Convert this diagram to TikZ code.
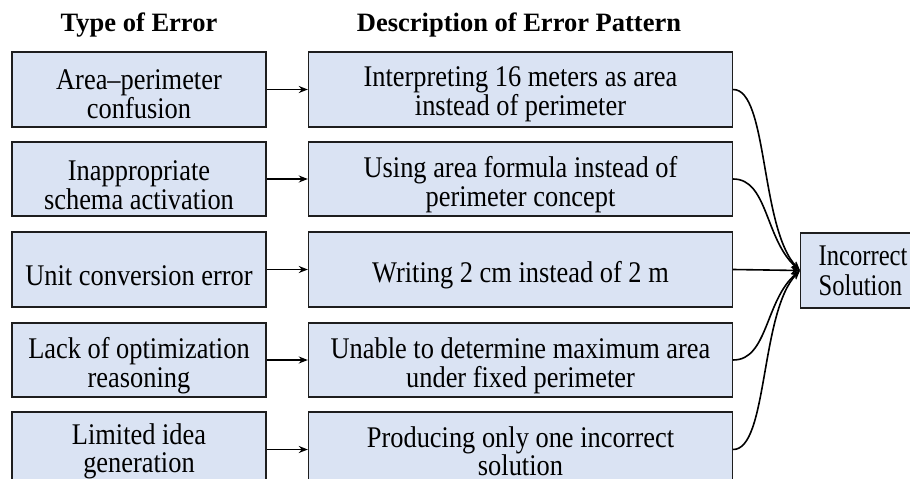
\documentclass[tikz,border=0pt]{standalone}
\usepackage{fontspec}
\setmainfont{Liberation Serif}
\newfontfamily\bodyfont{Liberation Serif}[FakeStretch=0.88]
\newfontfamily\incfont{Liberation Serif}[FakeStretch=0.82]
\usetikzlibrary{arrows.meta}
\setlength{\parindent}{0pt}
\definecolor{boxfill}{RGB}{218,227,243}
\definecolor{boxline}{RGB}{30,30,30}
\newcommand{\tstrut}[1][32pt]{\rule{0pt}{#1}}
\tikzset{
  errbox/.style={draw=boxline, fill=boxfill, line width=1.4pt, rectangle,
    align=center, inner sep=0pt, font=\bodyfont\fontsize{30}{28.5}\selectfont},
  hdr/.style={font=\bfseries\fontsize{26.5}{30}\selectfont, inner sep=0pt, anchor=base},
  conn/.style={line width=1.6pt, -{Stealth[length=9pt,width=7pt]}},
}
\begin{document}
\begin{tikzpicture}[x=1pt,y=-1pt]
\useasboundingbox (0,0) rectangle (910,479);
\begin{scope}
\clip (0,0) rectangle (910,479);
\node[hdr] (h1) at (139,31) {Type of Error};
\node[hdr] (h2) at (519,31) {Description of Error Pattern};

\node[errbox, minimum width=254pt, minimum height=75pt] (l1) at (139,89.5) {\tstrut[29pt]Area–perimeter\\confusion};
\node[errbox, minimum width=254pt, minimum height=74pt] (l2) at (139,179) {\tstrut Inappropriate\\schema activation};
\node[errbox, minimum width=254pt, minimum height=75pt] (l3) at (139,269.5) {\tstrut[33pt]Unit conversion error};
\node[errbox, minimum width=254pt, minimum height=74pt] (l4) at (139,360) {\tstrut Lack of optimization\\reasoning};
\node[errbox, minimum width=254pt, minimum height=75pt] (l5) at (139,449.5) {\tstrut[24pt]Limited idea\\generation};

\node[errbox, minimum width=424pt, minimum height=75pt] (r1) at (520.5,89.5) {\tstrut[29pt]Interpreting 16 meters as area\\instead of perimeter};
\node[errbox, minimum width=424pt, minimum height=74pt] (r2) at (520.5,179) {\tstrut Using area formula instead of\\perimeter concept};
\node[errbox, minimum width=424pt, minimum height=75pt] (r3) at (520.5,269.5) {\tstrut[33pt]Writing 2 cm instead of 2 m};
\node[errbox, minimum width=424pt, minimum height=74pt] (r4) at (520.5,360) {\tstrut Unable to determine maximum area\\under fixed perimeter};
\node[errbox, minimum width=424pt, minimum height=75pt] (r5) at (520.5,449.5) {\tstrut[24pt]Producing only one incorrect\\solution};

\node[errbox, align=left, anchor=west, minimum width=142pt, minimum height=75pt,
      text width=142pt, inner xsep=0pt, font=\incfont\fontsize{30}{30}\selectfont] (inc) at (800,270.5) {\hspace*{18pt}Incorrect\\\hspace*{18pt}Solution};
\coordinate (conv) at (inc.west);

\foreach \i in {1,...,5} {
  \draw[conn] (l\i.east) -- (r\i.west);
}
\draw[conn] (r1.east) .. controls (768,89.5) and (760,228) .. (conv);
\draw[conn] (r2.east) .. controls (768,179) and (765,240) .. (conv);
\draw[conn] (r3.east) -- (conv);
\draw[conn] (r4.east) .. controls (768,360) and (765,300) .. (conv);
\draw[conn] (r5.east) .. controls (768,449.5) and (760,312) .. (conv);
\end{scope}
\end{tikzpicture}
\end{document}
